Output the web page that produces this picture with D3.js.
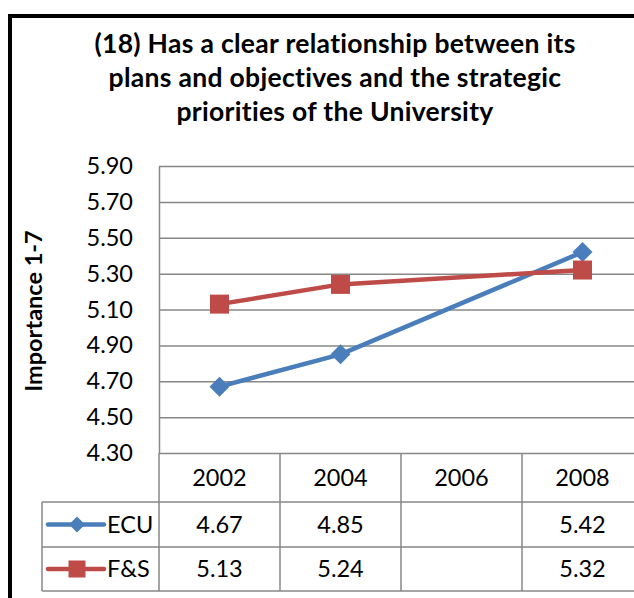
<!DOCTYPE html>
<html>
<head>
<meta charset="utf-8">
<script src="https://cdn.jsdelivr.net/npm/d3@7"></script>
<style>
  body { margin: 0; background: #fff; }
  svg { display: block; font-family: Lato, "Open Sans", sans-serif; }
</style>
</head>
<body>
<svg width="634" height="598"></svg>
<script>
// dados do gráfico
var anos = ["2002", "2004", "2006", "2008"];
var ecu = [4.67, 4.85, null, 5.42];
var fs = [5.13, 5.24, null, 5.32];
var ticksY = [4.30, 4.50, 4.70, 4.90, 5.10, 5.30, 5.50, 5.70, 5.90];
var titulo = ["(18) Has a clear relationship between its",
              "plans and objectives and the strategic",
              "priorities of the University"];
var rotuloY = "Importance 1-7";

var series = [
  { nome: "ECU", valores: ecu, cor: "#4a7ebb", marca: "diamante" },
  { nome: "F&S", valores: fs, cor: "#be4b48", marca: "quadrado" }
];

var svg = d3.select("svg");

// area do grafico (o lado direito sai da imagem, como no original)
const esq = 159, dir = 643, topo = 166, base = 453,
      corGrade = "#878787",
      fonte = 23.5;

var x = d3.scaleBand().domain(anos).range([esq, dir]);
var y = d3.scaleLinear().domain([4.3, 5.9]).range([base, topo]);

// moldura preta
svg.append("rect")
  .attr("x", 10).attr("y", 16)
  .attr("width", 1000).attr("height", 1000)
  .attr("fill", "none").attr("stroke", "#000").attr("stroke-width", 4);

// titulo
svg.append("g").selectAll("text")
  .data(titulo)
  .enter().append("text")
    .attr("x", 335)
    .attr("y", function(d, i) { return 53 + i * 34; })
    .attr("text-anchor", "middle")
    .attr("font-weight", "bold")
    .attr("font-size", 26.5)
    .attr("letter-spacing", 0.3)
    .attr("fill", "#000")
    .text(function(d) { return d; });

// eixo y com grade
var eixo = svg.append("g")
  .attr("transform", "translate(" + esq + ",0)")
  .call(d3.axisLeft(y)
    .tickValues(ticksY)
    .tickSize(-(dir - esq))
    .tickSizeOuter(0)
    .tickPadding(26)
    .tickFormat(d3.format(".2f")));
eixo.selectAll("line").attr("stroke", corGrade).attr("stroke-width", 1.5);
eixo.select(".domain").attr("stroke", corGrade).attr("stroke-width", 1.5);
eixo.selectAll("text")
  .attr("font-size", fonte).attr("fill", "#000")
  .attr("font-family", "Lato, 'Open Sans', sans-serif");

// rotulo do eixo y
svg.append("text")
  .attr("transform", "translate(42,311) rotate(-90)")
  .attr("text-anchor", "middle")
  .attr("font-weight", "bold")
  .attr("font-size", fonte)
  .text(rotuloY);

// linhas e marcadores
var linha = d3.line()
  .defined(function(d) { return d.v != null; })
  .x(function(d) { return x(d.ano) + x.bandwidth() / 2; })
  .y(function(d) { return y(d.v); });

function marcador(tipo, grande) {
  if (tipo == "diamante")
    return d3.symbol().type(d3.symbolSquare).size(grande ? 200 : 128)();
  return d3.symbol().type(d3.symbolSquare).size(grande ? 361 : 289)();
}

series.forEach(function(s) {
  var pontos = anos.map(function(a, i) { return { ano: a, v: s.valores[i] }; })
    .filter(function(d) { return d.v != null; });
  svg.append("path")
    .datum(pontos)
    .attr("d", linha)
    .attr("fill", "none")
    .attr("stroke", s.cor)
    .attr("stroke-width", 4.5)
    .attr("stroke-linejoin", "round")
    .attr("stroke-linecap", "round");
  svg.append("g").selectAll("path")
    .data(pontos)
    .enter().append("path")
      .attr("d", marcador(s.marca, true))
      .attr("transform", function(d) {
        return "translate(" + (x(d.ano) + x.bandwidth() / 2) + "," + y(d.v) + ")" +
          (s.marca == "diamante" ? " rotate(45)" : "");
      })
      .attr("fill", s.cor);
});

// tabela de dados
const linhasTabela = [453, 502, 547, 591],
      legEsq = 42;
var tabela = svg.append("g");
var bordas = anos.map(function(a) { return x(a); }).concat([dir]);

tabela.selectAll("line.v")
  .data(bordas)
  .enter().append("line")
    .attr("x1", function(d) { return d; }).attr("x2", function(d) { return d; })
    .attr("y1", linhasTabela[0]).attr("y2", linhasTabela[3]);
tabela.append("line")
  .attr("x1", legEsq).attr("x2", legEsq)
  .attr("y1", linhasTabela[1]).attr("y2", linhasTabela[3]);
tabela.selectAll("line.h")
  .data(linhasTabela.slice(1))
  .enter().append("line")
    .attr("x1", legEsq).attr("x2", dir)
    .attr("y1", function(d) { return d; }).attr("y2", function(d) { return d; });
tabela.selectAll("line").attr("stroke", corGrade).attr("stroke-width", 1.5);

// cabecalho
tabela.selectAll("text.ano")
  .data(anos)
  .enter().append("text")
    .attr("x", function(d) { return x(d) + x.bandwidth() / 2; })
    .attr("y", (linhasTabela[0] + linhasTabela[1]) / 2)
    .attr("dy", "0.35em")
    .attr("text-anchor", "middle")
    .attr("font-size", fonte)
    .text(function(d) { return d; });

series.forEach(function(s, i) {
  var cy = (linhasTabela[i + 1] + linhasTabela[i + 2]) / 2;
  // chave da legenda
  tabela.append("line")
    .attr("x1", 48).attr("x2", 104)
    .attr("y1", cy).attr("y2", cy)
    .attr("stroke", s.cor).attr("stroke-width", 4.5)
    .attr("stroke-linecap", "round");
  tabela.append("path")
    .attr("d", marcador(s.marca, false))
    .attr("transform", "translate(77," + cy + ")" + (s.marca == "diamante" ? " rotate(45)" : ""))
    .attr("fill", s.cor);
  tabela.append("text")
    .attr("x", 107).attr("y", cy).attr("dy", "0.35em")
    .attr("font-size", fonte)
    .text(s.nome);
  tabela.selectAll("text.v" + i)
    .data(s.valores.map(function(v, j) { return { ano: anos[j], v: v }; })
      .filter(function(d) { return d.v != null; }))
    .enter().append("text")
      .attr("x", function(d) { return x(d.ano) + x.bandwidth() / 2; })
      .attr("y", cy).attr("dy", "0.35em")
      .attr("text-anchor", "middle")
      .attr("font-size", fonte)
      .text(function(d) { return d3.format(".2f")(d.v); });
});
</script>
</body>
</html>
